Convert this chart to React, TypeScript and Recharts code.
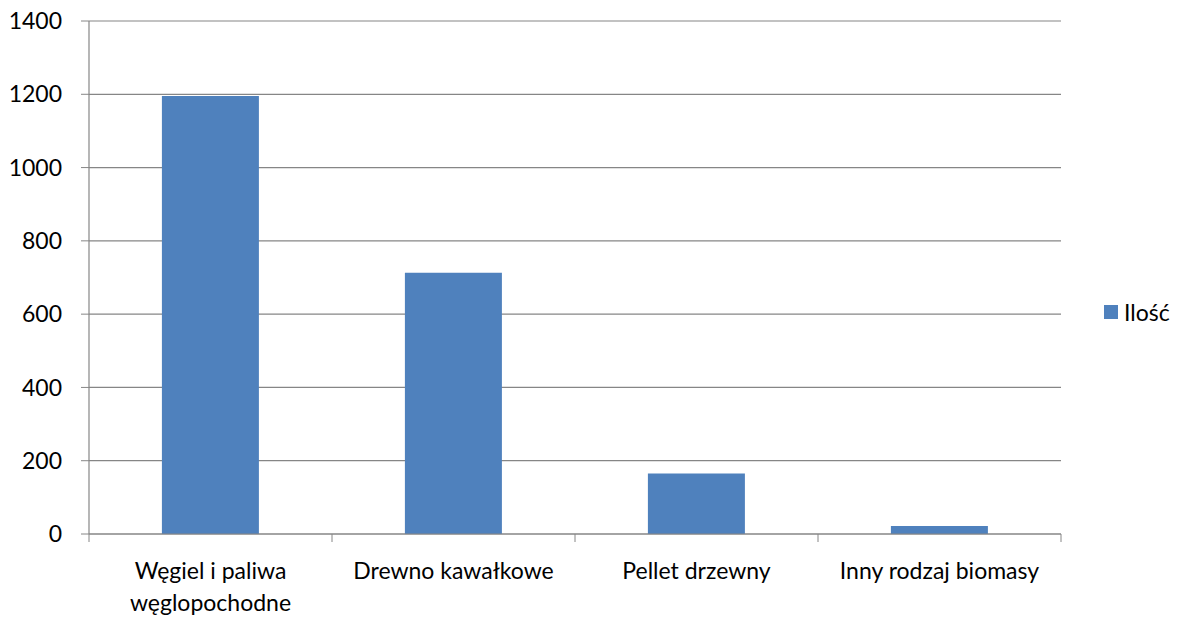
import React from "react";
import { BarChart, Bar, XAxis, YAxis, CartesianGrid } from "recharts";

const categories = [
    "Węgiel i paliwa węglopochodne",
    "Drewno kawałkowe",
    "Pellet drzewny",
    "Inny rodzaj biomasy",
];
const values = [1195, 713, 165, 22];
const yTicks = [0, 200, 400, 600, 800, 1000, 1200, 1400];
const seriesName = "Ilość";

const data = categories.map((name, i) => ({ name, value: values[i] }));

const W = 1184;
const H = 619;
const margin = { top: 21, right: 123, bottom: 5, left: 0 };
const Y_AXIS_W = 89;
const PLOT_W = W - margin.left - margin.right - Y_AXIS_W;
const HALF_BAND = PLOT_W / categories.length / 2;

const AXIS_COLOR = "#868686";
const BAR_COLOR = "#4f81bd";
const FONT = "Lato, 'Open Sans', sans-serif";
const FONT_SIZE = 23;

// greedy word wrap, measured with a canvas
let ctx: CanvasRenderingContext2D | null = null;
const wrap = (label: string, maxW: number) => {
    if (!ctx) {
        ctx = document.createElement("canvas").getContext("2d");
    }
    if (ctx) ctx.font = `${FONT_SIZE}px ${FONT}`;
    const measure = (s: string) => (ctx ? ctx.measureText(s).width : s.length * FONT_SIZE * 0.5);
    const lines: string[] = [];
    let cur = "";
    label.split(" ").forEach((w) => {
        const next = cur ? cur + " " + w : w;
        if (cur && measure(next) > maxW) {
            lines.push(cur);
            cur = w;
        } else {
            cur = next;
        }
    });
    if (cur) lines.push(cur);
    return lines;
};

const CategoryTick = (props: any) => {
    const { x, y, payload, index } = props;
    const lines = wrap(String(payload.value), 232);
    return (
        <g>
            <line x1={x - HALF_BAND} x2={x - HALF_BAND} y1={y} y2={y + 8} stroke={AXIS_COLOR} />
            {index === categories.length - 1 && (
                <line x1={x + HALF_BAND} x2={x + HALF_BAND} y1={y} y2={y + 8} stroke={AXIS_COLOR} />
            )}
            <text
                x={x}
                y={y + 45}
                textAnchor="middle"
                fill="#000"
                style={{ fontSize: FONT_SIZE, fontFamily: FONT }}
            >
                {lines.map((l, i) => (
                    <tspan key={i} x={x} dy={i === 0 ? 0 : 32}>
                        {l}
                    </tspan>
                ))}
            </text>
        </g>
    );
};

export default function App() {
    return (
        <div style={{ position: "absolute", left: 0, top: 0, width: W, height: H, background: "#fff" }}>
            <BarChart width={W} height={H} data={data} margin={margin} barCategoryGap="30%">
                <CartesianGrid vertical={false} stroke={AXIS_COLOR} strokeWidth={1.2} />
                <XAxis
                    dataKey="name"
                    interval={0}
                    height={80}
                    tickLine={false}
                    tickSize={0}
                    tickMargin={0}
                    axisLine={{ stroke: AXIS_COLOR, strokeWidth: 1.2 }}
                    tick={<CategoryTick />}
                />
                <YAxis
                    width={Y_AXIS_W}
                    domain={[0, 1400]}
                    ticks={yTicks}
                    interval={0}
                    tickSize={8}
                    tickMargin={19}
                    axisLine={{ stroke: AXIS_COLOR, strokeWidth: 1.2 }}
                    tickLine={{ stroke: AXIS_COLOR }}
                    tick={{ fill: "#000", fontSize: FONT_SIZE, fontFamily: FONT }}
                />
                <Bar dataKey="value" name={seriesName} fill={BAR_COLOR} isAnimationActive={false} />
            </BarChart>
            <div
                style={{
                    position: "absolute",
                    left: 1104,
                    top: 298,
                    display: "flex",
                    alignItems: "center",
                    fontFamily: FONT,
                    fontSize: FONT_SIZE,
                    color: "#000",
                }}
            >
                <span style={{ width: 14, height: 14, background: BAR_COLOR, display: "inline-block", marginRight: 6 }} />
                <span>{seriesName}</span>
            </div>
        </div>
    );
}
